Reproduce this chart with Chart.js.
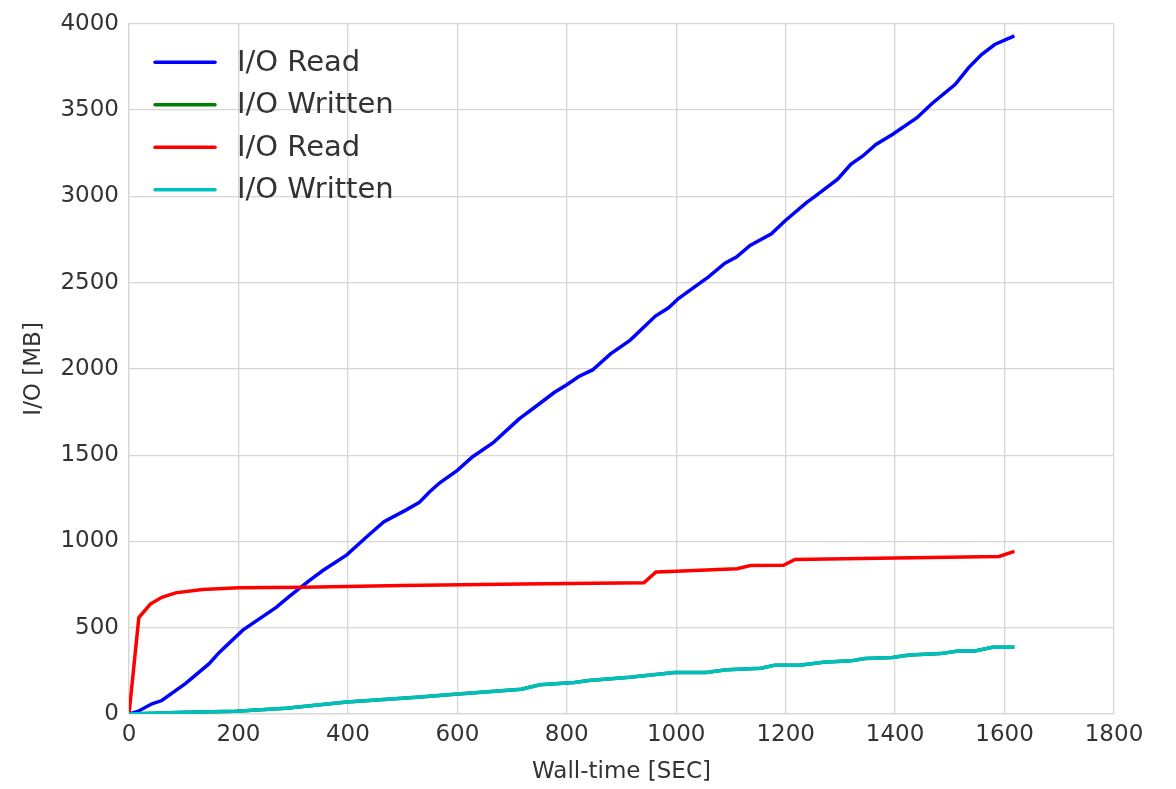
<!DOCTYPE html>
<html>
<head>
<meta charset="utf-8">
<script src="https://cdn.jsdelivr.net/npm/chart.js@4.4.1/dist/chart.umd.min.js"></script>
<style>
  html, body { margin: 0; padding: 0; background: #fff; }
  #wrap { width: 1176px; height: 789px; }
</style>
</head>
<body>
<div id="wrap"><canvas id="ioChart"></canvas></div>
<script>
// Run 1: read / written (seconds, MB)
const run1ReadTime = [0, 17, 42, 60, 103, 146, 165, 208, 269, 293, 330, 355, 398, 435, 466, 505, 530, 550, 568, 600, 628, 665, 695, 713, 750, 777, 800, 822, 847, 880, 916, 962, 986, 1004, 1059, 1089, 1110, 1135, 1174, 1198, 1238, 1253, 1295, 1319, 1341, 1365, 1395, 1440, 1467, 1510, 1534, 1558, 1582, 1618];
const run1ReadMB = [0, 16, 59, 78, 176, 290, 357, 486, 618, 682, 775, 833, 922, 1029, 1114, 1180, 1225, 1290, 1340, 1412, 1491, 1571, 1658, 1710, 1798, 1863, 1908, 1956, 1994, 2087, 2167, 2306, 2354, 2408, 2533, 2613, 2648, 2715, 2783, 2856, 2964, 2998, 3099, 3186, 3234, 3301, 3359, 3456, 3537, 3649, 3745, 3822, 3880, 3930];

const writtenTime = [0, 103, 195, 287, 398, 533, 595, 717, 751, 814, 840, 915, 997, 1054, 1092, 1155, 1180, 1225, 1269, 1319, 1345, 1395, 1426, 1483, 1515, 1546, 1578, 1618];
const run1WrittenMB = [0, 10, 16, 33, 69, 98, 114, 143, 169, 183, 194, 213, 240, 240, 256, 265, 283, 283, 300, 308, 321, 327, 342, 350, 365, 365, 387, 387];

// Run 2
const run2ReadTime = [0, 18, 39, 60, 85, 134, 201, 318, 500, 717, 941, 963, 1000, 1111, 1136, 1196, 1217, 1401, 1590, 1618];
const run2ReadMB = [0, 559, 637, 676, 702, 722, 731, 735, 745, 753, 760, 823, 828, 842, 860, 862, 896, 904, 913, 942];
const run2WrittenMB = [0, 10, 16, 33, 69, 98, 114, 143, 169, 183, 194, 213, 240, 240, 256, 265, 283, 283, 300, 308, 321, 327, 342, 350, 365, 365, 387, 387];

const seriesLabels = ['I/O Read', 'I/O Written', 'I/O Read', 'I/O Written'];
const seriesColors = ['#0000ff', '#008000', '#ff0000', '#00bfbf'];

const xTicks = [0, 200, 400, 600, 800, 1000, 1200, 1400, 1600, 1800];
const yTicks = [0, 500, 1000, 1500, 2000, 2500, 3000, 3500, 4000];

const FONT = '"DejaVu Sans", sans-serif';
const TEXT = '#333333';
const GRID = '#d6d6d6';

function toPoints(xs, ys) {
    return xs.map((x, i) => ({ x: x, y: ys[i] }));
}

// Legend drawn inside the plot area, top left
const insideLegend = {
    id: 'insideLegend',
    afterDatasetsDraw(chart) {
        const ctx = chart.ctx;
        const area = chart.chartArea;
        ctx.save();
        ctx.font = '29px ' + FONT;
        ctx.textBaseline = 'middle';
        ctx.lineCap = 'round';
        chart.data.datasets.forEach((ds, i) => {
            const y = area.top + 38.5 + i * 42.5;
            ctx.strokeStyle = ds.borderColor;
            ctx.lineWidth = 3.5;
            ctx.beginPath();
            ctx.moveTo(area.left + 26, y);
            ctx.lineTo(area.left + 86, y);
            ctx.stroke();
            ctx.fillStyle = TEXT;
            ctx.fillText(ds.label, area.left + 108, y + 1);
        });
        ctx.restore();
    }
};

const datasets = [
    toPoints(run1ReadTime, run1ReadMB),
    toPoints(writtenTime, run1WrittenMB),
    toPoints(run2ReadTime, run2ReadMB),
    toPoints(writtenTime, run2WrittenMB)
].map((pts, i) => ({
    label: seriesLabels[i],
    data: pts,
    borderColor: seriesColors[i],
    backgroundColor: seriesColors[i],
    borderWidth: 3.5,
    pointRadius: 0,
    tension: 0,
    fill: false,
    order: 4 - i
}));

new Chart(document.getElementById('ioChart'), {
    type: 'line',
    data: { datasets: datasets },
    options: {
        responsive: true,
        maintainAspectRatio: false,
        animation: false,
        layout: { padding: { left: 0, right: 62, top: 22, bottom: 0 } },
        plugins: {
            legend: { display: false },
            tooltip: { enabled: false }
        },
        scales: {
            x: {
                type: 'linear',
                min: 0,
                max: 1800,
                afterBuildTicks: (scale) => { scale.ticks = xTicks.map(v => ({ value: v })); },
                afterFit: (scale) => { scale.height = 75; },
                grid: { color: GRID, lineWidth: 1.3, drawTicks: false },
                border: { color: GRID, width: 1.3 },
                ticks: {
                    color: TEXT,
                    font: { family: FONT, size: 23 },
                    padding: 7,
                    maxRotation: 0,
                    callback: (v) => String(v)
                },
                title: {
                    display: true,
                    text: 'Wall-time [SEC]',
                    color: TEXT,
                    font: { family: FONT, size: 23 },
                    padding: { top: 0, bottom: 3 }
                }
            },
            y: {
                min: 0,
                max: 4000,
                afterBuildTicks: (scale) => { scale.ticks = yTicks.map(v => ({ value: v })); },
                afterFit: (scale) => { scale.width = 129; },
                grid: { color: GRID, lineWidth: 1.3, drawTicks: false },
                border: { color: GRID, width: 1.3 },
                ticks: {
                    color: TEXT,
                    font: { family: FONT, size: 23 },
                    padding: 10,
                    callback: (v) => String(v)
                },
                title: {
                    display: true,
                    text: 'I/O [MB]',
                    color: TEXT,
                    font: { family: FONT, size: 23 },
                    padding: { top: 20, bottom: 0 }
                }
            }
        }
    },
    plugins: [insideLegend]
});
</script>
</body>
</html>
